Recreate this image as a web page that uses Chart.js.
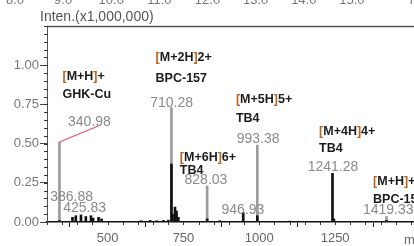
<!DOCTYPE html>
<html>
<head>
<meta charset="utf-8">
<script src="https://cdn.jsdelivr.net/npm/chart.js@4"></script>
<style>
  body { margin: 0; background: #fff; }
  canvas { display: block; }
</style>
</head>
<body>
<canvas id="spectrum" width="414" height="246"></canvas>
<script>
// spectrum peaks (m/z, intensity x1,000,000)
const peakMz = [340.98, 384, 395, 412, 428, 445, 452, 470, 480, 610, 640, 662, 684, 700, 710.28, 714, 722, 727, 733, 828.03, 870, 946.93, 993.38, 1100, 1241.28, 1246, 1419.33];
const peakInt = [0.01, 0.03, 0.04, 0.045, 0.035, 0.04, 0.025, 0.03, 0.02, 0.008, 0.01, 0.008, 0.01, 0.012, 0.37, 0.05, 0.095, 0.07, 0.03, 0.02, 0.008, 0.06, 0.04, 0.006, 0.31, 0.02, 0.01];

// highlighted (grey) peaks
const markMz = [340.98, 710.28, 828.03, 993.38, 1419.33];
const markInt = [0.51, 0.73, 0.23, 0.49, 0.035];

// peak value labels, anchored in data space
const valueText = ["340.98", "386.88", "425.83", "710.28", "828.03", "946.93", "993.38", "1241.28", "1419.33"];
const valueMz = [440, 381, 424, 711, 824, 946, 996, 1243, 1425];
const valueInt = [0.64, 0.16, 0.09, 0.76, 0.27, 0.077, 0.53, 0.35, 0.077];

// ion / compound annotations
const ionText = ["[M+H]+", "[M+2H]2+", "[M+5H]5+", "[M+6H]6+", "[M+4H]4+", "[M+H]+"];
const compText = ["GHK-Cu", "BPC-157", "TB4", "TB4", "TB4", "BPC-157"];
const ionMz = [351, 658, 923, 738, 1197, 1375];
const ionInt = [0.93, 1.05, 0.78, 0.41, 0.577, 0.256];
const compInt = [0.81, 0.917, 0.66, 0.327, 0.468, 0.141];

const xTicks = [500, 750, 1000, 1250];
const yTicks = [0, 0.25, 0.5, 0.75, 1.0];
// retention time ruler of the chromatogram above (cut off)
const rtTicks = [8, 9, 10, 11, 12, 13, 14, 15];
const rtMin = 8.665;
const rtMax = 16.29;

const FONT = "'Liberation Sans', Arial, sans-serif";

const drawIon = (c, text, x, y) => {
  let cx = x;
  for (const ch of text) {
    c.fillStyle = ch === "[" || ch === "]" ? "#b8621e" : "#1c1c1c";
    c.fillText(ch, cx, y);
    cx += c.measureText(ch).width;
  }
};

const overlay = {
  id: "overlay",
  afterDraw(chart) {
    const c = chart.ctx;
    const xs = chart.scales.x;
    const ys = chart.scales.y;
    const area = chart.chartArea;
    const rtPixel = (t) => area.left + ((t - rtMin) / (rtMax - rtMin)) * (area.right - area.left);
    c.save();

    // frame top line
    c.strokeStyle = "#555";
    c.lineWidth = 1.5;
    c.beginPath();
    c.moveTo(area.left, area.top + 0.5);
    c.lineTo(area.right, area.top + 0.5);
    c.stroke();

    // minor ticks
    c.strokeStyle = "#333";
    c.lineWidth = 1;
    for (let v = 0; v <= 1.2501; v += 0.05) {
      const py = Math.round(ys.getPixelForValue(v)) + 0.5;
      c.beginPath();
      c.moveTo(area.left - 3, py);
      c.lineTo(area.left + 1, py);
      c.stroke();
    }
    for (let v = 300; v <= 1510; v += 50) {
      const px = Math.round(xs.getPixelForValue(v)) + 0.5;
      c.beginPath();
      c.moveTo(px, area.bottom);
      c.lineTo(px, area.bottom + 3);
      c.stroke();
    }

    c.font = "13px " + FONT;
    c.fillStyle = "#777";
    c.textAlign = "center";
    c.textBaseline = "middle";
    rtTicks.forEach((t) => {
      c.fillText(t.toFixed(1), rtPixel(t), 0);
    });
    c.textAlign = "left";
    c.fillText("min", rtPixel(16.2), 0);

    c.font = "14px " + FONT;
    c.fillStyle = "#555";
    c.fillText("Inten.(x1,000,000)", 40, 17);

    // leader line for 340.98
    c.strokeStyle = "#e0566f";
    c.lineWidth = 1.2;
    c.beginPath();
    c.moveTo(xs.getPixelForValue(markMz[0]), ys.getPixelForValue(markInt[0]));
    c.lineTo(xs.getPixelForValue(473), ys.getPixelForValue(0.615));
    c.stroke();

    // peak values
    c.font = "14px " + FONT;
    c.fillStyle = "#8a8a8a";
    c.textAlign = "center";
    valueText.forEach((t, i) => {
      c.fillText(t, xs.getPixelForValue(valueMz[i]), ys.getPixelForValue(valueInt[i]));
    });

    // ion annotations
    c.font = "bold 12.5px " + FONT;
    c.textAlign = "left";
    ionText.forEach((t, i) => {
      const px = xs.getPixelForValue(ionMz[i]);
      drawIon(c, t, px, ys.getPixelForValue(ionInt[i]));
      c.fillStyle = "#1c1c1c";
      c.fillText(compText[i], px, ys.getPixelForValue(compInt[i]));
    });

    // axis title, clipped at the right edge
    c.font = "13px " + FONT;
    c.fillStyle = "#666";
    c.fillText("m/z", 404, 240);
    c.restore();
  },
};

const ctx = document.getElementById("spectrum").getContext("2d");
new Chart(ctx, {
  type: "bar",
  data: {
    datasets: [
      {
        data: peakMz.map((m, i) => ({ x: m, y: peakInt[i] })),
        backgroundColor: "#111",
        barThickness: 2,
        order: 0,
      },
      {
        data: markMz.map((m, i) => ({ x: m, y: markInt[i] })),
        backgroundColor: "#9c9c9c",
        barThickness: 2,
        order: 1,
      },
    ],
  },
  options: {
    responsive: false,
    animation: false,
    grouped: false,
    layout: { padding: { top: 26, left: 0, right: 0, bottom: 0 } },
    plugins: { legend: { display: false }, tooltip: { enabled: false } },
    scales: {
      x: {
        type: "linear",
        min: 300,
        max: 1510,
        offset: false,
        afterBuildTicks: (s) => { s.ticks = xTicks.map((v) => ({ value: v })); },
        afterFit: (s) => { s.height = 24; },
        grid: { drawOnChartArea: false, tickLength: 5, color: "#222" },
        border: { color: "#111", width: 1.5 },
        ticks: { color: "#666", font: { size: 13, family: FONT }, padding: 4, maxRotation: 0, autoSkip: false, callback: (v) => String(v) },
      },
      y: {
        min: 0,
        max: 1.25,
        afterBuildTicks: (s) => { s.ticks = yTicks.map((v) => ({ value: v })); },
        afterFit: (s) => { s.width = 47; },
        grid: { drawOnChartArea: false, tickLength: 7, color: "#444" },
        border: { color: "#555", width: 1 },
        ticks: { color: "#777", font: { size: 13, family: FONT }, padding: 1, callback: (v) => v.toFixed(2) },
      },
    },
  },
  plugins: [overlay],
});
</script>
</body>
</html>
